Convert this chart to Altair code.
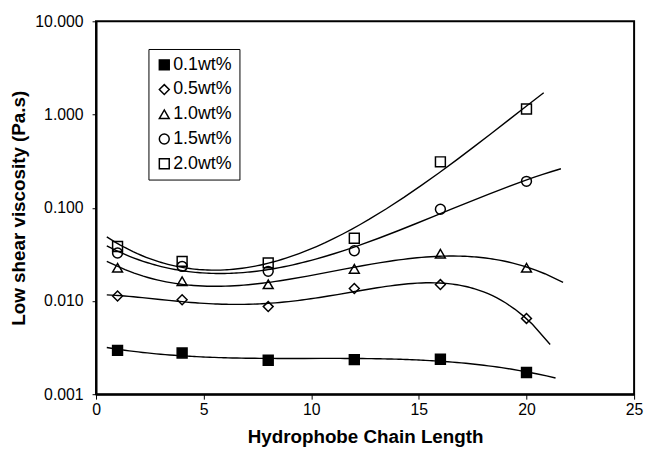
import altair as alt
import pandas as pd

chain_length = [1, 4, 8, 12, 16, 20]
series_names = ["0.1wt%", "0.5wt%", "1.0wt%", "1.5wt%", "2.0wt%"]
visc_01 = [0.00295, 0.00277, 0.00231, 0.00235, 0.00237, 0.00171]
visc_05 = [0.0113, 0.0103, 0.0087, 0.0136, 0.0150, 0.0065]
visc_10 = [0.0227, 0.0163, 0.0151, 0.0221, 0.0321, 0.0227]
visc_15 = [0.0327, 0.0235, 0.0208, 0.0346, 0.0964, 0.192]
visc_20 = [0.0384, 0.0266, 0.0256, 0.0471, 0.311, 1.145]

# trendline settings per series (x-extent, polynomial order)
trend_extent = {
    "0.1wt%": [0.5, 21.35],
    "0.5wt%": [0.5, 21.1],
    "1.0wt%": [0.5, 21.7],
    "1.5wt%": [0.5, 21.6],
    "2.0wt%": [0.5, 20.8],
}
trend_order = {"0.1wt%": 3, "0.5wt%": 4, "1.0wt%": 3, "1.5wt%": 3, "2.0wt%": 3}

all_vals = [visc_01, visc_05, visc_10, visc_15, visc_20]
rows = []
for name, vals in zip(series_names, all_vals):
    for x, v in zip(chain_length, vals):
        rows.append({"x": x, "v": v, "series": name})
df = pd.DataFrame(rows)

FONT = "Liberation Sans"

xscale = alt.Scale(domain=[0, 25], nice=False)
yscale = alt.Scale(type="log", domain=[0.001, 10], nice=False)

xaxis = alt.Axis(
    title="Hydrophobe Chain Length", values=[0, 5, 10, 15, 20, 25], grid=False,
    labelFont=FONT, labelFontSize=16, labelColor="black", labelPadding=3,
    tickSize=5, tickColor="black", domainColor="black", domainWidth=2,
    titleFont=FONT, titleFontSize=19, titleFontWeight="bold", titleColor="black",
    titleY=43, titleBaseline="middle", labelFlush=False,
)
yaxis = alt.Axis(
    title="Low shear viscosity (Pa.s)", values=[0.001, 0.01, 0.1, 1, 10], format=".3f",
    grid=False, labelFont=FONT, labelFontSize=16, labelColor="black", labelPadding=9,
    tickSize=4, tickColor="black", domainColor="black", domainWidth=2,
    titleFont=FONT, titleFontSize=19, titleFontWeight="bold", titleColor="black",
    titleX=-78, titleBaseline="middle", labelFlush=False,
)

base = alt.Chart(df)

lines = []
for name in series_names:
    ln = (
        base.transform_filter(alt.datum.series == name)
        .transform_calculate(lv="log(datum.v)/LN10")
        .transform_regression("x", "lv", method="poly", order=trend_order[name],
                              extent=trend_extent[name])
        .transform_calculate(v="pow(10, datum.lv)")
        .mark_line(color="black", strokeWidth=1.4)
        .encode(x=alt.X("x:Q", scale=xscale, axis=xaxis),
                y=alt.Y("v:Q", scale=yscale, axis=yaxis))
    )
    lines.append(ln)

points = base.mark_point(filled=False, size=100, strokeWidth=1.5, opacity=1).encode(
    x=alt.X("x:Q", scale=xscale, axis=xaxis),
    y=alt.Y("v:Q", scale=yscale, axis=yaxis),
    shape=alt.Shape("series:N", title=None,
                    scale=alt.Scale(domain=series_names,
                                    range=["square", "diamond", "triangle-up", "circle", "square"])),
    fill=alt.Fill("series:N", title=None,
                  scale=alt.Scale(domain=series_names,
                                  range=["black", "transparent", "transparent", "transparent", "transparent"])),
    stroke=alt.Stroke("series:N", title=None,
                      scale=alt.Scale(domain=series_names,
                                      range=["black", "black", "black", "black", "black"])),
)

chart = alt.layer(*lines, points).properties(
    width=544, height=377,
    autosize=alt.AutoSizeParams(type="none"),
    padding={"left": 89, "top": 11, "right": 10, "bottom": 57},
    background="white",
).configure_view(
    stroke="black", strokeWidth=2
).configure_legend(
    orient="none", legendX=53, legendY=28,
    strokeColor="black", fillColor="white", padding=7, rowPadding=7,
    symbolSize=100, symbolStrokeWidth=1.5,
    labelFont=FONT, labelFontSize=18, labelColor="black", labelOffset=0,
    cornerRadius=0,
)

chart.save("out.html", embed_options={"renderer": "svg", "actions": False})
